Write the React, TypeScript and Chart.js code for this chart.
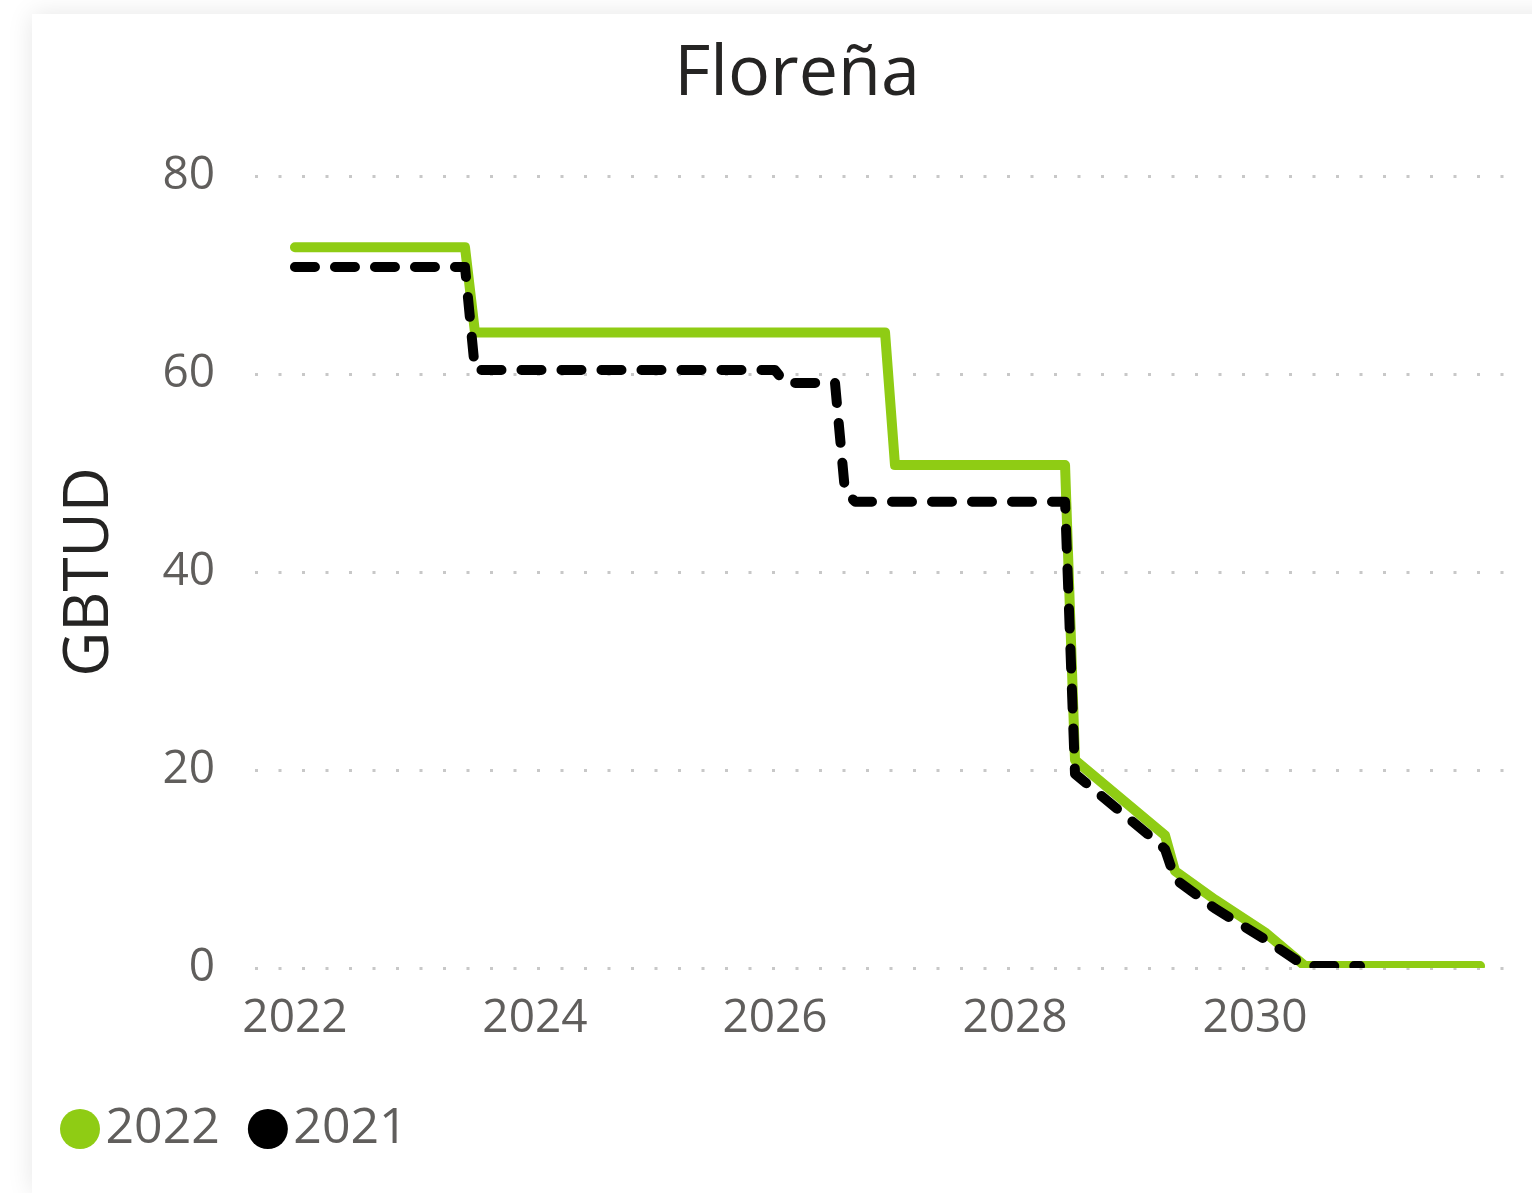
import React, { useEffect, useRef } from "react";
import { Chart, registerables } from "chart.js";

Chart.register(...registerables);

// ---- data ----
const chartTitle = "Floreña";
const yAxisTitle = "GBTUD";
const seriesLabels = ["2022", "2021"];
const seriesColors = ["#8fcc14", "#000000"];

// 2022 series: x = year (fractional, monthly), y = GBTUD
const x2022 = [2022, 2023.417, 2023.5, 2026.917, 2027, 2028.417, 2028.5, 2029.25, 2029.333, 2029.667, 2030.083, 2030.417, 2031.875];
const y2022 = [72.8, 72.8, 64.2, 64.2, 50.8, 50.8, 21.0, 13.4, 9.8, 6.9, 3.6, 0.2, 0.2];

// 2021 series
const x2021 = [2022, 2023.417, 2023.5, 2026.0, 2026.083, 2026.5, 2026.583, 2026.667, 2028.417, 2028.5, 2029.167, 2029.25, 2029.333, 2029.667, 2030.083, 2030.417, 2030.875];
const y2021 = [70.8, 70.8, 60.4, 60.4, 59.1, 59.1, 48.2, 47.1, 47.1, 19.6, 12.9, 12.0, 9.0, 6.0, 2.9, 0.2, 0.2];

const xTicks = [2022, 2024, 2026, 2028, 2030];
const yTicks = [0, 20, 40, 60, 80];
const xMin = 2021.667;
const xMax = 2032.083;

const FONT = "'Segoe UI', 'Open Sans', sans-serif";
const TICK_COLOR = "#605e5c";
const TITLE_COLOR = "#252423";

export default function App() {
  const ref = useRef<HTMLCanvasElement | null>(null);

  useEffect(() => {
    if (!ref.current) return;
    const toPts = (xs: number[], ys: number[]) => xs.map((x, i) => ({ x, y: ys[i] }));
    const chart = new Chart(ref.current, {
      type: "line",
      data: {
        datasets: [
          {
            label: seriesLabels[0],
            data: toPts(x2022, y2022),
            borderColor: seriesColors[0],
            backgroundColor: seriesColors[0],
            borderWidth: 10,
            borderCapStyle: "round",
            borderJoinStyle: "round",
            pointRadius: 0,
            tension: 0,
            order: 1,
          },
          {
            label: seriesLabels[1],
            data: toPts(x2021, y2021),
            borderColor: seriesColors[1],
            backgroundColor: seriesColors[1],
            borderWidth: 10,
            borderDash: [20, 20],
            borderCapStyle: "round",
            borderJoinStyle: "round",
            pointRadius: 0,
            tension: 0,
            order: 0,
          },
        ],
      },
      options: {
        responsive: false,
        animation: false,
        layout: { padding: { left: 0, right: 0, top: 0, bottom: 29 } },
        scales: {
          x: {
            type: "linear",
            min: xMin,
            max: xMax,
            grid: { display: false },
            border: { display: false },
            ticks: {
              autoSkip: false,
              maxRotation: 0,
              padding: 15,
              color: TICK_COLOR,
              font: { family: FONT, size: 46 },
              callback: (v: any) => String(v),
            },
            afterBuildTicks: (s: any) => {
              s.ticks = xTicks.map((v) => ({ value: v }));
            },
            afterFit: (s: any) => {
              s.height = 88.5;
            },
          },
          y: {
            type: "linear",
            min: 0,
            max: 80,
            grid: { drawTicks: false, color: "#c8c8c8", lineWidth: 3 },
            border: { display: false, dash: [3, 20.5] },
            ticks: {
              padding: 40,
              color: TICK_COLOR,
              font: { family: FONT, size: 46 },
              callback: (v: any) => String(v),
            },
            afterBuildTicks: (s: any) => {
              s.ticks = yTicks.map((v) => ({ value: v }));
            },
            title: {
              display: true,
              text: yAxisTitle,
              color: TITLE_COLOR,
              font: { family: FONT, size: 62 },
              padding: { top: 21, bottom: 10 },
            },
            afterFit: (s: any) => {
              s.width = 223;
            },
          },
          spacer: {
            type: "linear",
            position: "right",
            display: true,
            grid: { display: false },
            border: { display: false },
            ticks: { display: false },
            afterFit: (s: any) => {
              s.width = 57;
            },
          },
        },
        plugins: {
          title: {
            display: true,
            text: chartTitle,
            color: TITLE_COLOR,
            font: { family: FONT, size: 70, weight: "normal" },
            padding: { top: 19, bottom: 59 },
          },
          legend: {
            display: true,
            position: "bottom",
            align: "start",
            labels: {
              usePointStyle: true,
              pointStyle: "circle",
              boxWidth: 1,
              boxHeight: 28.28,
              padding: 47.5,
              color: TICK_COLOR,
              font: { family: FONT, size: 50 },
              sort: (a: any, b: any) => a.datasetIndex - b.datasetIndex,
              generateLabels: (c: any) =>
                (Chart.defaults.plugins.legend.labels.generateLabels as any)(c).map((l: any) => ({
                  ...l,
                  lineWidth: 0,
                  lineDash: [],
                  fillStyle: seriesColors[l.datasetIndex],
                  strokeStyle: seriesColors[l.datasetIndex],
                  pointStyle: "circle",
                })),
            },
          },
          tooltip: { enabled: false },
        },
      } as any,
    });
    return () => chart.destroy();
  }, []);

  return (
    <div
      style={{
        position: "fixed",
        left: 0,
        top: 0,
        width: "100vw",
        height: "100vh",
        overflow: "hidden",
        background: "#ffffff",
      }}
    >
      <div
        style={{
          position: "absolute",
          left: 32,
          top: 14,
          width: 1530,
          height: 1179,
          background: "#ffffff",
          boxShadow: "0 0 24px rgba(0,0,0,0.10)",
        }}
      >
        <canvas ref={ref} width={1530} height={1179} style={{ display: "block" }} />
      </div>
    </div>
  );
}
